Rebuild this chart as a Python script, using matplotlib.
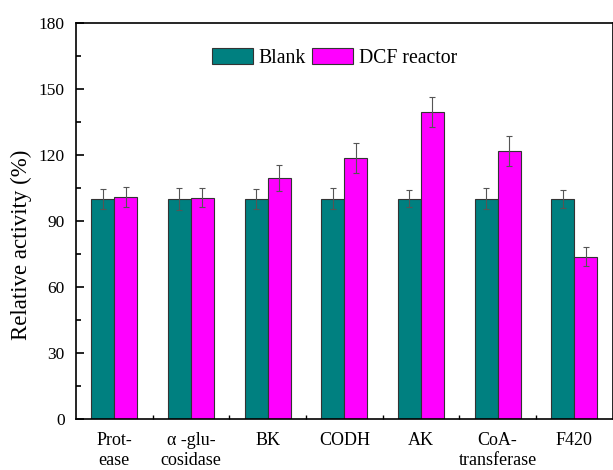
import matplotlib
matplotlib.use("Agg")
import matplotlib.pyplot as plt
import numpy as np

plt.rcParams['font.family'] = ['Liberation Serif', 'DejaVu Serif']

categories = ["Prot-\nease", "\u03b1 -glu-\ncosidase", "BK", "CODH", "AK",
              "CoA-\ntransferase", "F420"]
blank = [100.0, 100.0, 100.0, 100.0, 100.0, 100.0, 100.0]
blank_err = [4.5, 5.0, 4.5, 4.7, 3.8, 4.7, 4.2]
dcf = [100.8, 100.6, 109.4, 118.5, 139.3, 121.7, 73.6]
dcf_err = [4.5, 4.5, 5.8, 6.7, 6.8, 6.8, 4.3]
yticks = [0, 30, 60, 90, 120, 150, 180]

fig = plt.figure(figsize=(6.13, 4.70), dpi=100)
ax = fig.add_axes([0.124, 0.1085, 0.8752, 0.8432])

x = np.arange(len(categories))
w = 0.3
err_kw = dict(ecolor='#555555', elinewidth=0.8, capsize=2.5, capthick=0.8)
ax.bar(x - w / 2, blank, w, yerr=blank_err, color='#008080',
       edgecolor='#333333', linewidth=0.8, label='Blank', error_kw=err_kw)
ax.bar(x + w / 2, dcf, w, yerr=dcf_err, color='#ff00ff',
       edgecolor='#333333', linewidth=0.8, label='DCF reactor', error_kw=err_kw)

ax.set_xlim(-0.5, len(categories) - 0.5)
ax.set_ylim(0, 180)
ax.set_yticks(yticks)
ax.set_yticks(np.arange(15, 180, 30), minor=True)
ax.set_xticks(x)
ax.set_xticklabels(categories, fontsize=13, linespacing=1.25)
ax.set_xticks(np.arange(0.5, len(categories) - 0.5, 1), minor=True)

ax.tick_params(axis='y', which='major', direction='in', length=6, width=1.2,
               labelsize=12.5, pad=8)
ax.tick_params(axis='y', which='minor', direction='in', length=3.5, width=1.2)
ax.tick_params(axis='x', which='major', length=0, pad=9)
ax.tick_params(axis='x', which='minor', direction='in', length=3, width=1.0)
for s in ax.spines.values():
    s.set_linewidth(1.2)

ax.set_ylabel('Relative activity (%)', fontsize=16.5)
ax.yaxis.set_label_coords(-0.082, 0.44)

ax.legend(loc='upper center', bbox_to_anchor=(0.482, 0.955), ncol=2,
          frameon=False, fontsize=14.2, handlelength=2.1, handleheight=0.85,
          handletextpad=0.3, columnspacing=0.3, borderaxespad=0)

fig.savefig('out.png', dpi=100)
